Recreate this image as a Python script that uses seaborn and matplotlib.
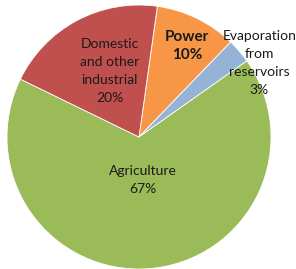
import numpy as np
import matplotlib.pyplot as plt
import seaborn as sns

# Water use shares (clockwise from just right of 12 o'clock)
categories = ["Power", "Evaporation\nfrom\nreservoirs", "Agriculture", "Domestic\nand other\nindustrial"]
shares = [10, 3, 67, 20]
colors = ["#F79646", "#95B3D7", "#9BBB59", "#C0504D"]
label_dist = [0.78, 1.07, 0.33, 0.55]
label_shift = [-2, -9, 0, -4]  # degrees
label_size = [11, 10, 10, 10]
bold = [True, False, False, False]

sns.set_style("white")
plt.rcParams['font.family'] = ['Lato', 'DejaVu Sans']

fig = plt.figure(figsize=(2.96, 2.69), dpi=100)
ax = fig.add_axes([139 / 296 - 132 / 296, 1 - 137 / 269 - 132 / 269, 264 / 296, 264 / 269])

wedges, _ = ax.pie(shares, colors=colors, startangle=82, counterclock=False,
                   wedgeprops=dict(edgecolor="white", linewidth=0.6))
ax.set_xlim(-1, 1)
ax.set_ylim(-1, 1)
ax.axis("off")

for w, name, val, r, sh, fs, b in zip(wedges, categories, shares, label_dist, label_shift, label_size, bold):
    ang = np.deg2rad((w.theta1 + w.theta2) / 2 + sh)
    ax.text(r * np.cos(ang), r * np.sin(ang), f"{name}\n{val}%", ha="center", va="center",
            fontsize=fs, color="#1a1a1a", linespacing=1.6 if fs == 10 else 1.4,
            fontweight="bold" if b else "normal")

fig.savefig("out.png", dpi=100)
